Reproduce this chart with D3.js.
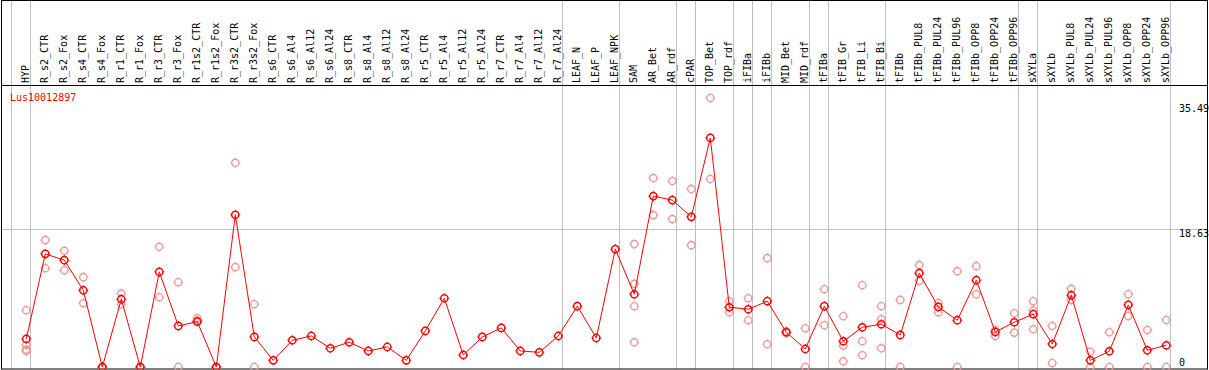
<!DOCTYPE html>
<html>
<head>
<meta charset="utf-8">
<script src="https://cdn.jsdelivr.net/npm/d3@7"></script>
<style>
  body { margin: 0; background: #fff; }
  text { font-family: "DejaVu Sans Mono", monospace; font-size: 10px; }
</style>
</head>
<body>
<svg id="mainContainer"></svg>
<script>
/* global d3 */

var geneName = 'Lus10012897';

var categories = ['HYP','R_s2_CTR','R_s2_Fox','R_s4_CTR','R_s4_Fox','R_r1_CTR','R_r1_Fox','R_r3_CTR','R_r3_Fox',
  'R_r1s2_CTR','R_r1s2_Fox','R_r3s2_CTR','R_r3s2_Fox','R_s6_CTR','R_s6_Al4','R_s6_Al12','R_s6_Al24',
  'R_s8_CTR','R_s8_Al4','R_s8_Al12','R_s8_Al24','R_r5_CTR','R_r5_Al4','R_r5_Al12','R_r5_Al24',
  'R_r7_CTR','R_r7_Al4','R_r7_Al12','R_r7_Al24','LEAF_N','LEAF_P','LEAF_NPK','SAM','AR_Bet','AR_rdf',
  'cPAR','TOP_Bet','TOP_rdf','iFIBa','iFIBb','MID_Bet','MID_rdf','tFIBa','tFIB_Gr','tFIB_Li','tFIB_Bi',
  'tFIBb','tFIBb_PUL8','tFIBb_PUL24','tFIBb_PUL96','tFIBb_OPP8','tFIBb_OPP24','tFIBb_OPP96',
  'sXYLa','sXYLb','sXYLb_PUL8','sXYLb_PUL24','sXYLb_PUL96','sXYLb_OPP8','sXYLb_OPP24','sXYLb_OPP96'];

var means = [3.78,15.24,14.39,10.34,0,9.13,0,12.81,5.53,6.11,0,20.5,4.05,0.9,3.6,4.18,2.52,3.33,2.16,2.7,
  0.9,4.86,9.26,1.62,4.05,5.26,2.16,1.98,4.18,8.19,3.91,15.87,9.8,23.02,22.48,20.23,30.85,8.05,7.78,8.86,
  4.68,2.43,8.19,3.47,5.35,5.76,4.32,12.64,8.09,6.3,11.69,4.72,6.03,7.11,3.1,9.67,0.9,2.12,8.36,2.25,2.93];

var replicates = [
  [7.65,2.97,2.16,2.35],[17.09,13.31],[15.65,13.04],[12.1,8.59],[0,0],[9.89,8.45],[0,0],[16.19,9.4],[11.42,0],
  [6.57,6.25],[0,0],[27.5,13.45],[8.46,0],[],[],[],[],
  [],[],[],[],[],[],[],[],
  [],[],[],[],[],[],[],[16.55,11.2,8.19,3.33],[25.45,20.46],[25.05,19.92],
  [23.97,16.41],[36.24,25.32],[8.86,7.38],[9.26,6.3],[14.66,3.06],[4.81,4.6],[5.22,0],[10.48,5.62],[6.84,2.88,0.77],[11.02,3.47,1.58],[8.19,6.43,2.52],
  [9.04,0],[13.72,11.6],[8.63,7.38],[12.91,0],[13.58,9.8],[4.99,4.18],[7.24,4.63],
  [8.86,7.6,5.08],[5.53,0.54],[10.52,9.04],[2.06,0],[4.68,0],[9.8,6.88],[4.99,0],[6.34,0]];

// groups end after these categories
var groupEnds = ['HYP','R_r7_Al24','LEAF_NPK','AR_rdf','cPAR','TOP_rdf','iFIBa','iFIBb','MID_rdf','tFIBa','tFIB_Bi','tFIBb_OPP96','sXYLa','sXYLb_OPP96'];

var yTicks = [0, 18.63, 35.49];

var svgWidth = 1209;
var svgHeight = 370;
var headerBottom = 85;
var plotBottom = 369;

var svg = d3.select('#mainContainer')
    .attr('width', svgWidth)
    .attr('height', svgHeight);

var x = d3.scalePoint()
    .domain(categories)
    .range([26.3, 1166.3]);

var y = d3.scaleLinear()
    .domain([0, 35.49])
    .range([367, 103.5]);

// grid
var gridX = [x(categories[0]) - x.step() + 4].concat(groupEnds.map(function(c){ return x(c) + 4; }));

svg.append('g').selectAll('line')
    .data(gridX)
    .enter()
    .append('line')
    .attr('x1', function(d){ return Math.round(d) + 0.5; })
    .attr('x2', function(d){ return Math.round(d) + 0.5; })
    .attr('y1', 0)
    .attr('y2', plotBottom)
    .attr('stroke', '#c0c0c0');

svg.append('line')
    .attr('x1', 1).attr('x2', 1207)
    .attr('y1', Math.round(y(18.63)) + 0.5).attr('y2', Math.round(y(18.63)) + 0.5)
    .attr('stroke', '#c0c0c0');

// frame
svg.append('rect')
    .attr('x', 1.5).attr('y', 0.5)
    .attr('width', 1206).attr('height', plotBottom - 0.5)
    .attr('fill', 'none')
    .attr('stroke', 'black');

svg.append('line')
    .attr('x1', 1).attr('x2', 1208)
    .attr('y1', headerBottom + 0.5).attr('y2', headerBottom + 0.5)
    .attr('stroke', 'black');

// header labels
svg.append('g').selectAll('text')
    .data(categories)
    .enter()
    .append('text')
    .attr('transform', function(d){ return 'translate(' + (x(d) + 3) + ',' + (headerBottom - 2) + ') rotate(-90)'; })
    .attr('fill', 'black')
    .text(function(d){ return d; });

// y labels
svg.append('g').selectAll('text')
    .data(yTicks)
    .enter()
    .append('text')
    .attr('x', 1179)
    .attr('y', function(d){ return Math.min(y(d) + 8, 366); })
    .attr('fill', 'black')
    .text(function(d){ return d; });

svg.append('text')
    .attr('x', 10)
    .attr('y', 101)
    .attr('fill', 'red')
    .text(geneName);

// replicate points
var repPoints = [];
replicates.forEach(function(r, i){
    r.forEach(function(v){ repPoints.push({c: categories[i], v: v}); });
});

function marker(g, color, w){
    g.append('circle')
        .attr('r', 3.6)
        .attr('fill', 'none')
        .attr('stroke', color)
        .attr('stroke-width', w);
    g.append('path')
        .attr('d', 'M0,-5V-4M0,4V5M-5,0H-4M4,0H5')
        .attr('stroke', color)
        .attr('stroke-width', 1);
}

svg.append('g').selectAll('g')
    .data(repPoints)
    .enter()
    .append('g')
    .attr('transform', function(d){ return 'translate(' + x(d.c) + ',' + y(d.v) + ')'; })
    .each(function(){ marker(d3.select(this), '#eb9a9a', 1.4); });

// mean line
var line = d3.line()
    .x(function(d, i){ return x(categories[i]); })
    .y(function(d){ return y(d); });

svg.append('path')
    .datum(means)
    .attr('d', line)
    .attr('fill', 'none')
    .attr('stroke', 'red')
    .attr('stroke-width', 1);

svg.append('g').selectAll('g')
    .data(means)
    .enter()
    .append('g')
    .attr('transform', function(d, i){ return 'translate(' + x(categories[i]) + ',' + y(d) + ')'; })
    .each(function(){ marker(d3.select(this), 'red', 1.5); });
</script>
</body>
</html>
